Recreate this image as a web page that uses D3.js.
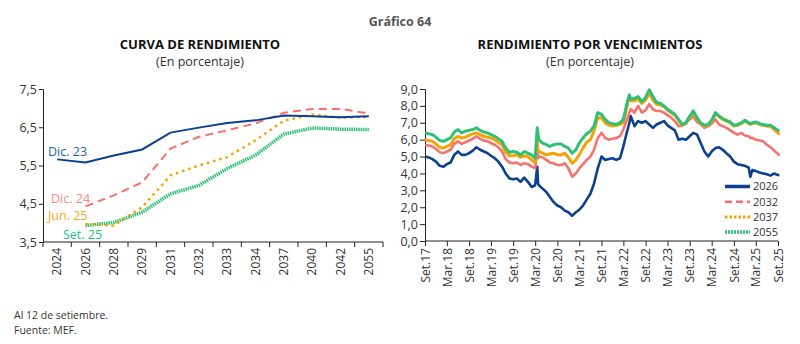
<!DOCTYPE html>
<html>
<head>
<meta charset="utf-8">
<script src="https://cdn.jsdelivr.net/npm/d3@7"></script>
<style>
  html, body { margin: 0; padding: 0; background: #fff; }
  svg { display: block; font-family: "Open Sans", "Noto Sans", sans-serif; }
</style>
</head>
<body>
<svg id="chart" width="800" height="344"></svg>
<script>
// ---------- Left chart data: yield curve ----------
const curveYears = ["2024","2026","2028","2029","2031","2032","2033","2034","2037","2040","2042","2055"];
const dic23 = [5.66,5.58,5.76,5.92,6.36,6.49,6.61,6.68,6.81,6.79,6.76,6.79];
const dic24 = [null,4.43,4.72,5.06,5.94,6.25,6.42,6.60,6.88,6.98,6.98,6.86];
const jun25 = [null,3.97,3.93,4.41,5.24,5.50,5.72,6.16,6.67,6.83,6.75,6.77];
const set25 = [null,3.93,4.01,4.28,4.76,4.98,5.42,5.77,6.32,6.48,6.45,6.44];
const curveNames = ["Dic. 23","Dic. 24","Jun. 25","Set. 25"];
const curveTicks = [3.5,4.5,5.5,6.5,7.5];

// ---------- Right chart data: yields by maturity ----------
const dates = [
 "2017-09-01","2017-10-01","2017-11-01","2017-12-01","2018-01-01","2018-02-01","2018-03-01","2018-04-01","2018-05-01","2018-06-01",
 "2018-07-01","2018-08-01","2018-09-01","2018-10-01","2018-11-01","2018-12-01","2019-01-01","2019-02-01","2019-03-01","2019-04-01",
 "2019-05-01","2019-06-01","2019-07-01","2019-08-01","2019-09-01","2019-10-01","2019-11-01","2019-12-01","2020-01-01","2020-02-01",
 "2020-03-01","2020-03-18","2020-03-25",
 "2020-04-01","2020-05-01","2020-06-01","2020-07-01","2020-08-01","2020-09-01","2020-10-01","2020-11-01","2020-12-01",
 "2021-01-01","2021-02-01","2021-03-01","2021-04-01","2021-05-01","2021-06-01","2021-07-01","2021-08-01","2021-09-01","2021-10-01",
 "2021-11-01","2021-12-01","2022-01-01","2022-02-01","2022-03-01","2022-04-01","2022-04-20",
 "2022-05-01","2022-06-01","2022-07-01","2022-08-01",
 "2022-09-01","2022-10-01","2022-11-01","2022-12-01","2023-01-01","2023-02-01","2023-03-01","2023-04-01","2023-05-01","2023-06-01",
 "2023-07-01","2023-08-01","2023-09-01","2023-10-01","2023-11-01","2023-12-01","2024-01-01","2024-02-01","2024-03-01","2024-04-01",
 "2024-05-01","2024-06-01","2024-07-01","2024-08-01","2024-09-01","2024-10-01","2024-11-01","2024-12-01","2025-01-01","2025-01-15",
 "2025-02-01","2025-03-01","2025-04-01","2025-05-01","2025-06-01","2025-07-01","2025-08-01","2025-09-01","2025-09-12"
];
const y2026 = [
 5.0,4.95,4.85,4.7,4.45,4.4,4.55,4.65,5.1,5.3,
 5.1,5.1,5.2,5.35,5.55,5.4,5.3,5.2,5.05,4.9,
 4.7,4.4,4.0,3.7,3.65,3.7,3.5,3.75,3.5,3.2,
 3.3,4.4,3.4,
 3.3,3.1,2.9,2.6,2.3,2.1,2.0,1.8,1.7,
 1.5,1.7,1.85,2.1,2.45,2.8,3.4,4.3,5.0,4.8,
 4.85,4.9,4.8,4.9,5.6,6.5,7.0,
 7.4,6.8,7.1,7.0,
 7.1,6.9,6.7,6.9,7.0,7.1,6.85,6.7,6.55,6.0,
 6.05,6.0,6.2,6.4,6.3,5.8,5.3,5.0,5.3,5.5,
 5.55,5.4,5.2,5.0,4.7,4.55,4.5,4.45,4.35,3.8,
 4.2,4.15,4.05,4.0,3.95,3.87,4.0,3.9,3.92
];
const y2032 = [
 5.7,5.65,5.6,5.45,5.25,5.2,5.3,5.4,5.75,5.9,
 5.75,5.85,5.95,6.05,6.2,6.05,5.95,5.9,5.8,5.7,
 5.55,5.3,4.85,4.65,4.6,4.65,4.5,4.6,4.55,4.4,
 4.3,5.5,4.9,
 5.0,4.95,4.8,4.65,4.6,4.5,4.5,4.6,4.3,
 3.8,4.0,4.3,4.55,4.8,5.0,5.4,6.1,6.4,6.1,
 6.0,6.05,6.1,6.2,6.6,7.2,7.6,
 7.8,7.6,8.0,7.6,
 7.75,8.1,7.8,7.7,7.7,7.6,7.45,7.3,7.1,6.8,
 6.85,7.0,7.2,7.4,7.05,6.9,6.7,6.8,6.95,7.2,
 6.9,6.8,6.7,6.55,6.4,6.3,6.4,6.25,6.2,6.1,
 6.1,6.0,5.95,5.9,5.7,5.55,5.35,5.15,5.05
];
const y2037 = [
 6.0,5.95,5.9,5.75,5.55,5.5,5.6,5.7,6.05,6.2,
 6.1,6.15,6.25,6.35,6.4,6.3,6.2,6.15,6.1,6.0,
 5.85,5.7,5.25,5.05,5.05,5.1,4.95,5.05,5.0,4.8,
 4.65,5.9,5.4,
 5.3,5.2,5.1,5.15,5.2,5.1,5.1,5.2,4.95,
 4.6,4.8,5.1,5.5,5.85,6.0,6.5,7.3,7.3,7.0,
 6.85,6.8,6.85,6.9,7.0,8.0,8.5,
 8.3,8.3,8.4,8.15,
 8.35,8.75,8.35,8.1,8.05,7.95,7.75,7.6,7.45,7.15,
 6.85,6.95,7.35,7.6,7.2,6.95,6.8,6.85,7.1,7.55,
 7.35,7.2,7.1,7.0,6.8,6.85,6.95,7.1,6.95,6.9,
 6.95,7.0,6.9,6.85,6.8,6.8,6.6,6.4,6.3
];
const y2055 = [
 6.4,6.35,6.3,6.15,5.95,5.9,6.0,6.1,6.45,6.6,
 6.4,6.5,6.55,6.6,6.7,6.55,6.45,6.4,6.3,6.2,
 6.05,5.9,5.5,5.25,5.3,5.25,5.1,5.3,5.2,5.1,
 4.9,6.7,6.3,
 6.0,5.8,5.7,5.6,5.7,5.75,5.75,5.6,5.5,
 5.2,5.4,5.8,6.1,6.35,6.5,6.8,7.6,7.5,7.2,
 7.0,6.95,6.9,7.0,7.2,8.2,8.65,
 8.4,8.45,8.55,8.25,
 8.5,8.95,8.55,8.2,8.15,8.0,7.8,7.65,7.5,7.2,
 6.9,7.0,7.4,7.7,7.3,7.0,6.85,6.9,7.15,7.6,
 7.4,7.25,7.15,7.05,6.85,6.9,7.0,7.15,7.0,6.95,
 7.0,7.05,6.95,6.9,6.85,6.85,6.7,6.55,6.5
];
const seriesNames = ["2026","2032","2037","2055"];
const yieldTicks = [0,1,2,3,4,5,6,7,8,9];

// ---------- Styles ----------
const C_BLUE = "#0b3f8f", C_RED = "#f7716d", C_ORANGE = "#f7a204", C_GREEN = "#2fbf76";
const C_TEXT = "#333333";
const FONT = "'Open Sans', sans-serif";
const comma = d3.formatLocale({decimal: ",", thousands: ".", grouping: [3], currency: ["", ""]});
const fmt1 = comma.format(".1f");

const svg = d3.select("#chart");

// Titles
svg.append("text").attr("x", 400).attr("y", 26).attr("text-anchor", "middle")
  .attr("font-size", 12.5).attr("font-weight", "bold").attr("fill", "#555").text("Gráfico 64");

function titles(cx, t1) {
  svg.append("text").attr("x", cx).attr("y", 49).attr("text-anchor", "middle")
    .attr("font-size", 13).attr("font-weight", "bold").attr("fill", "#111").text(t1);
  svg.append("text").attr("x", cx).attr("y", 66).attr("text-anchor", "middle")
    .attr("font-size", 12.5).attr("fill", C_TEXT).text("(En porcentaje)");
}
titles(200, "CURVA DE RENDIMIENTO");
titles(590, "RENDIMIENTO POR VENCIMIENTOS");

// ---------- Left chart ----------
const xL = d3.scaleBand().domain(curveYears).range([43, 383]).padding(0);
const yL = d3.scaleLinear().domain([3.5, 7.5]).range([242, 89]);

const gL = svg.append("g");
const yAxisL = d3.axisLeft(yL).tickValues(curveTicks).tickFormat(fmt1).tickSize(4).tickPadding(2);
gL.append("g").attr("transform", "translate(43,0)").call(yAxisL)
  .call(g => g.select(".domain").attr("stroke", "#222"))
  .call(g => g.selectAll(".tick line").attr("stroke", "#222"))
  .call(g => g.selectAll("text").attr("font-size", 12.5).attr("fill", C_TEXT).attr("font-family", FONT));
const xAxisL = d3.axisBottom(xL).tickSize(0).tickPadding(0);
const gx = gL.append("g").attr("transform", "translate(0,242)").call(xAxisL);
gx.select(".domain").attr("stroke", "#222").attr("d", "M43,0H383");
gx.selectAll(".tick text")
  .attr("font-size", 12).attr("fill", C_TEXT).attr("font-family", FONT)
  .attr("text-anchor", "end").attr("transform", "translate(0,6) rotate(-90)")
  .attr("x", 0).attr("y", 0).attr("dy", "0.35em");
const bounds = curveYears.map(d => xL(d)).concat([xL.range()[1]]);
gx.selectAll("line.bt").data(bounds).join("line").attr("class", "bt")
  .attr("x1", d => d).attr("x2", d => d).attr("y1", 0).attr("y2", 5).attr("stroke", "#222");

const lineL = d3.line().defined(d => d[1] != null)
  .x(d => xL(d[0]) + xL.bandwidth() / 2).y(d => yL(d[1]));
const curveSeries = [
  {vals: dic23, color: C_BLUE, w: 2, dash: null},
  {vals: dic24, color: C_RED, w: 2, dash: "8,5"},
  {vals: jun25, color: C_ORANGE, w: 2.5, dash: "2.5,4"},
  {vals: set25, color: C_GREEN, w: 3.5, dash: "1.5,0.8"}
];
curveSeries.slice().reverse().forEach(s => {
  gL.append("path").datum(curveYears.map((y, i) => [y, s.vals[i]]))
    .attr("fill", "none").attr("stroke", s.color).attr("stroke-width", s.w)
    .attr("stroke-dasharray", s.dash).attr("d", lineL);
});
const curveLabels = [
  {t: curveNames[0], x: 48, y: 156, c: "#2363ad"},
  {t: curveNames[1], x: 51, y: 203, c: "#f48a86"},
  {t: curveNames[2], x: 48, y: 220, c: "#f7a51a"},
  {t: curveNames[3], x: 63, y: 239, c: "#22c07e"}
];
gL.selectAll("text.lbl").data(curveLabels).join("text").attr("class", "lbl")
  .attr("x", d => d.x).attr("y", d => d.y).attr("font-size", 12.5).attr("fill", d => d.c).text(d => d.t);

// ---------- Right chart ----------
const parse = d3.timeParse("%Y-%m-%d");
const tDates = dates.map(parse);
const xR = d3.scaleTime().domain([new Date(2017, 8, 1), new Date(2025, 8, 1)]).range([425, 778]);
const yR = d3.scaleLinear().domain([0, 9]).range([241, 89]);
const gR = svg.append("g");

const yAxisR = d3.axisLeft(yR).tickValues(yieldTicks).tickFormat(fmt1).tickSize(5).tickPadding(2);
gR.append("g").attr("transform", "translate(425,0)").call(yAxisR)
  .call(g => g.select(".domain").attr("stroke", "#222"))
  .call(g => g.selectAll(".tick line").attr("stroke", "#222"))
  .call(g => g.selectAll("text").attr("font-size", 12.5).attr("fill", C_TEXT).attr("font-family", FONT));

const tickDates = d3.timeMonth.range(new Date(2017, 8, 1), new Date(2025, 8, 2), 6);
const fmtDate = d => (d.getMonth() === 8 ? "Set." : "Mar.") + d3.timeFormat("%y")(d);
const xAxisR = d3.axisBottom(xR).tickValues(tickDates).tickFormat(fmtDate).tickSize(5).tickPadding(2);
gR.append("g").attr("transform", "translate(0,241)").call(xAxisR)
  .call(g => g.select(".domain").attr("stroke", "#222").attr("d", "M425,0H778"))
  .call(g => g.selectAll(".tick line").attr("stroke", "#222"))
  .call(g => g.selectAll(".tick text").attr("font-size", 12).attr("fill", C_TEXT)
      .attr("font-family", FONT)
      .attr("text-anchor", "end").attr("transform", "translate(0,7) rotate(-90)")
      .attr("x", 0).attr("y", 0).attr("dy", "0.35em"));

const lineR = d3.line().x(d => xR(d[0])).y(d => yR(d[1]));
const yieldSeries = [
  {name: seriesNames[0], vals: y2026, color: C_BLUE, w: 2.6, dash: null, lw: 3.5},
  {name: seriesNames[1], vals: y2032, color: C_RED, w: 2.6, dash: "7,4", lw: 2.5},
  {name: seriesNames[2], vals: y2037, color: C_ORANGE, w: 3, dash: "2.5,2", lw: 3},
  {name: seriesNames[3], vals: y2055, color: C_GREEN, w: 3, dash: "2,1", lw: 3.5}
];
yieldSeries.forEach(s => {
  gR.append("path").datum(tDates.map((d, i) => [d, s.vals[i]]))
    .attr("fill", "none").attr("stroke", s.color).attr("stroke-width", s.w)
    .attr("stroke-linejoin", "round").attr("d", lineR);
});
// Legend
const leg = gR.append("g");
const legY = [186.5, 201.7, 216.9, 232.1];
yieldSeries.forEach((s, i) => {
  leg.append("line").attr("x1", 725).attr("x2", 750).attr("y1", legY[i]).attr("y2", legY[i])
    .attr("stroke", s.color).attr("stroke-width", s.lw).attr("stroke-dasharray", s.dash);
  leg.append("text").attr("x", 753).attr("y", legY[i]).attr("dy", "0.35em")
    .attr("font-size", 11).attr("fill", C_TEXT).text(s.name);
});

// Footnotes
svg.append("text").attr("x", 14).attr("y", 318.5).attr("font-size", 10.5).attr("fill", C_TEXT).text("Al 12 de setiembre.");
svg.append("text").attr("x", 14).attr("y", 333.5).attr("font-size", 10.5).attr("fill", C_TEXT).text("Fuente: MEF.");
</script>
</body>
</html>
